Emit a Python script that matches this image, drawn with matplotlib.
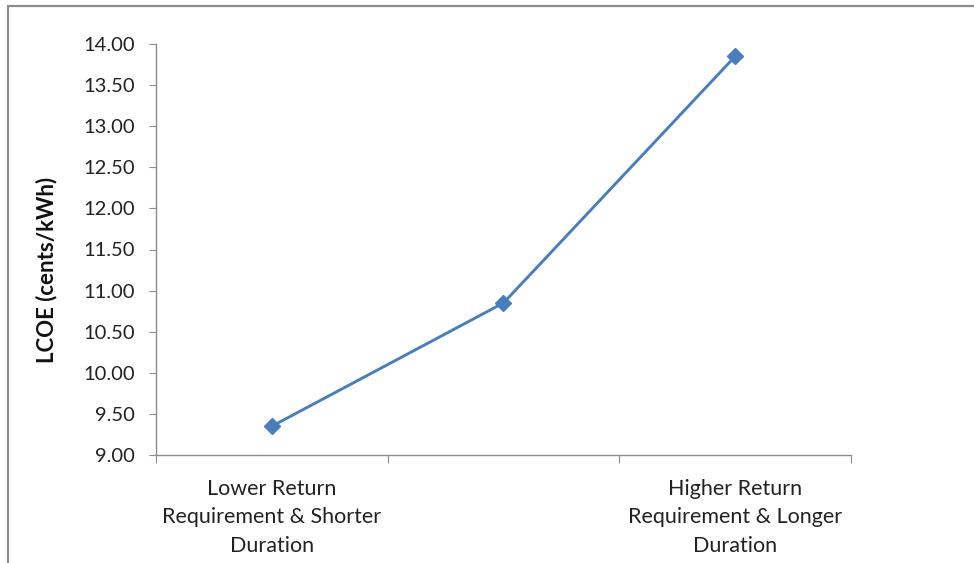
import matplotlib
matplotlib.use("Agg")
import matplotlib.pyplot as plt
from matplotlib.patches import Rectangle

categories = [
    "Lower Return\nRequirement & Shorter\nDuration",
    "",
    "Higher Return\nRequirement & Longer\nDuration",
]
lcoe = [9.35, 10.85, 13.85]
y_ticks = [9.00, 9.50, 10.00, 10.50, 11.00, 11.50, 12.00, 12.50, 13.00, 13.50, 14.00]

plt.rcParams["font.family"] = ["Lato", "DejaVu Sans"]

fig = plt.figure(figsize=(9.74, 5.63), dpi=100)
fig.patch.set_facecolor("white")

# frame around the chart area (left and top edges visible)
fig.add_artist(Rectangle((7.5 / 974, -0.1), 1.2, 1.1 - 6.5 / 563,
                         transform=fig.transFigure, fill=False,
                         edgecolor="#8c8c8c", linewidth=1.6))

ax = fig.add_axes([156 / 974, 108 / 563, 695 / 974, 411 / 563])
x = list(range(len(categories)))
ax.plot(x, lcoe, color="#4a7ebb", linewidth=2.1, marker="D",
        markersize=8, markerfacecolor="#4a7ebb", markeredgecolor="#4a7ebb")

ax.set_xlim(-0.5, len(categories) - 0.5)
ax.set_ylim(9.0, 14.0)
ax.set_yticks(y_ticks)
ax.set_yticklabels([f"{v:.2f}" for v in y_ticks])
ax.set_xticks([i - 0.5 for i in range(len(categories) + 1)])
ax.set_xticklabels([])
ax.set_xticks(x, minor=True)
ax.set_xticklabels(categories, minor=True, linespacing=1.55)

for s in ["top", "right"]:
    ax.spines[s].set_visible(False)
for s in ["left", "bottom"]:
    ax.spines[s].set_color("#8c8c8c")
    ax.spines[s].set_linewidth(1.0)

ax.tick_params(axis="y", which="major", length=5, color="#8c8c8c",
               labelsize=14.5, labelcolor="#222222", pad=10)
ax.tick_params(axis="x", which="major", length=6, color="#8c8c8c")
ax.tick_params(axis="x", which="minor", length=0, labelsize=15.5,
               labelcolor="#222222", pad=17)

ax.set_ylabel("LCOE (cents/kWh)", fontsize=16, fontweight="bold",
              color="#111111")
ax.yaxis.set_label_coords(-0.158, 0.45)
ax.yaxis.label.set_verticalalignment("center")

fig.savefig("out.png", dpi=100, facecolor="white")
